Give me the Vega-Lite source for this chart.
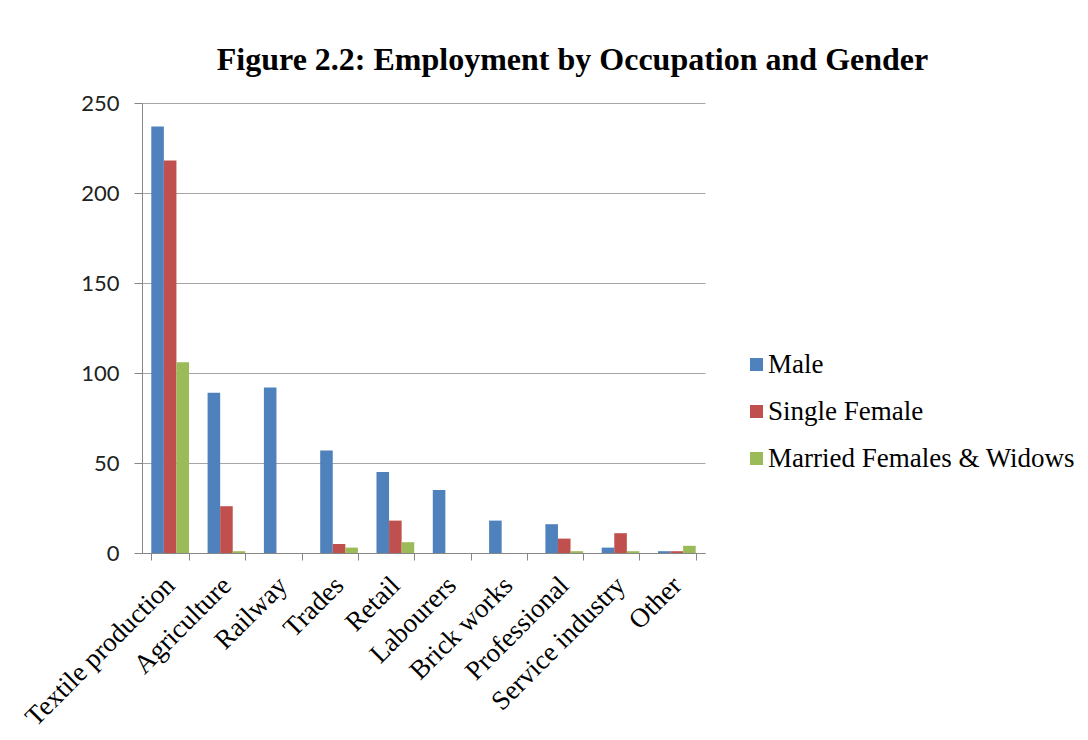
{
  "$schema": "https://vega.github.io/schema/vega-lite/v6.json",
  "autosize": {"type": "none"},
  "width": 563,
  "height": 450,
  "padding": {"left": 142, "top": 103, "right": 383, "bottom": 187},
  "background": "white",
  "title": {
    "text": "Figure 2.2: Employment by Occupation and Gender",
    "font": "Liberation Serif",
    "fontSize": 32,
    "fontWeight": "bold",
    "color": "#000000",
    "anchor": "middle",
    "frame": "group",
    "dx": 149,
    "offset": 15
  },
  "data": {
    "values": [
      {"occupation": "Textile production", "group": "Male", "count": 237},
      {"occupation": "Textile production", "group": "Single Female", "count": 218},
      {"occupation": "Textile production", "group": "Married Females & Widows", "count": 106},
      {"occupation": "Agriculture", "group": "Male", "count": 89},
      {"occupation": "Agriculture", "group": "Single Female", "count": 26},
      {"occupation": "Agriculture", "group": "Married Females & Widows", "count": 1},
      {"occupation": "Railway", "group": "Male", "count": 92},
      {"occupation": "Railway", "group": "Single Female", "count": 0},
      {"occupation": "Railway", "group": "Married Females & Widows", "count": 0},
      {"occupation": "Trades", "group": "Male", "count": 57},
      {"occupation": "Trades", "group": "Single Female", "count": 5},
      {"occupation": "Trades", "group": "Married Females & Widows", "count": 3},
      {"occupation": "Retail", "group": "Male", "count": 45},
      {"occupation": "Retail", "group": "Single Female", "count": 18},
      {"occupation": "Retail", "group": "Married Females & Widows", "count": 6},
      {"occupation": "Labourers", "group": "Male", "count": 35},
      {"occupation": "Labourers", "group": "Single Female", "count": 0},
      {"occupation": "Labourers", "group": "Married Females & Widows", "count": 0},
      {"occupation": "Brick works", "group": "Male", "count": 18},
      {"occupation": "Brick works", "group": "Single Female", "count": 0},
      {"occupation": "Brick works", "group": "Married Females & Widows", "count": 0},
      {"occupation": "Professional", "group": "Male", "count": 16},
      {"occupation": "Professional", "group": "Single Female", "count": 8},
      {"occupation": "Professional", "group": "Married Females & Widows", "count": 1},
      {"occupation": "Service industry", "group": "Male", "count": 3},
      {"occupation": "Service industry", "group": "Single Female", "count": 11},
      {"occupation": "Service industry", "group": "Married Females & Widows", "count": 1},
      {"occupation": "Other", "group": "Male", "count": 1},
      {"occupation": "Other", "group": "Single Female", "count": 1},
      {"occupation": "Other", "group": "Married Females & Widows", "count": 4}
    ]
  },
  "mark": {"type": "bar"},
  "encoding": {
    "x": {
      "field": "occupation",
      "type": "nominal",
      "sort": null,
      "scale": {"paddingInner": 0.33, "paddingOuter": 0.165},
      "axis": {
        "title": null,
        "labelAngle": -45,
        "labelAlign": "right",
        "labelBaseline": "middle",
        "labelFont": "Liberation Serif",
        "labelFontSize": 27,
        "labelColor": "#000000",
        "labelPadding": 21,
        "labelLimit": 400,
        "tickBand": "extent",
        "tickSize": 7,
        "tickColor": "#868686",
        "domainColor": "#868686",
        "grid": false
      }
    },
    "xOffset": {"field": "group", "type": "nominal", "sort": ["Male", "Single Female", "Married Females & Widows"]},
    "y": {
      "field": "count",
      "type": "quantitative",
      "scale": {"domain": [0, 250], "nice": false},
      "axis": {
        "title": null,
        "values": [0, 50, 100, 150, 200, 250],
        "labelFont": "Lato",
        "labelFontSize": 22,
        "labelColor": "#222222",
        "labelPadding": 15,
        "tickSize": 8,
        "tickColor": "#868686",
        "domainColor": "#868686",
        "gridColor": "#a6a6a6",
        "gridWidth": 1.2
      }
    },
    "color": {
      "field": "group",
      "type": "nominal",
      "sort": ["Male", "Single Female", "Married Females & Widows"],
      "scale": {
        "domain": ["Male", "Single Female", "Married Females & Widows"],
        "range": ["#4F81BD", "#C0504D", "#9BBB59"]
      },
      "legend": {
        "title": null,
        "orient": "none",
        "legendX": 601,
        "legendY": 248,
        "symbolType": "square",
        "symbolSize": 170,
        "symbolStrokeWidth": 0,
        "labelFont": "Liberation Serif",
        "labelFontSize": 27,
        "labelColor": "#000000",
        "labelOffset": -2,
        "rowPadding": 19,
        "labelLimit": 400
      }
    }
  },
  "config": {
    "view": {"stroke": null},
    "legend": {"labelFont": "Liberation Serif", "labelFontSize": 27}
  }
}
